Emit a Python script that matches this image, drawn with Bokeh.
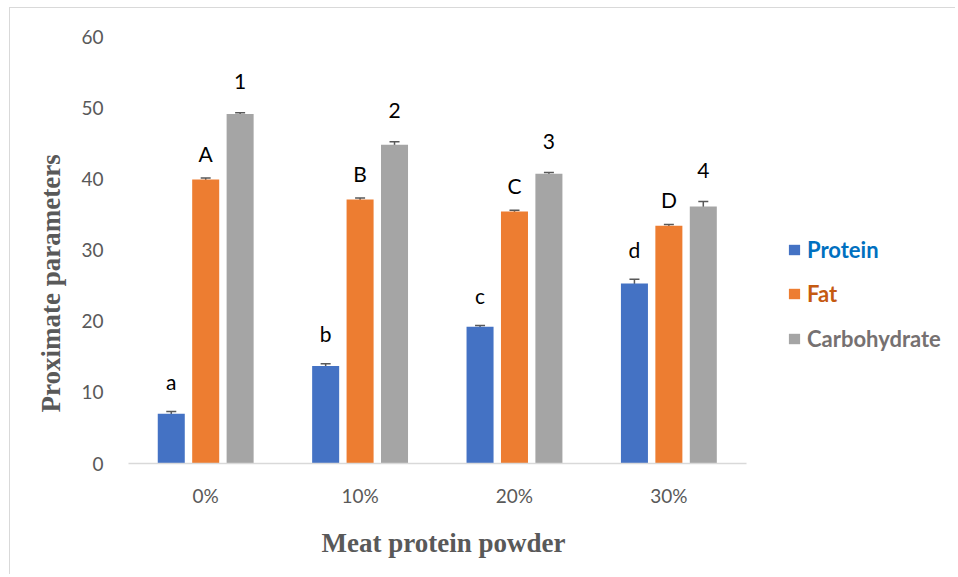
from bokeh.plotting import figure
from bokeh.models import (ColumnDataSource, Range1d, Whisker, TeeHead, Legend, LegendItem,
                          FixedTicker, LinearAxis, Title)
from bokeh.transform import dodge
from bokeh.core.properties import value
from bokeh.embed import file_html
from bokeh.resources import INLINE

categories = ["0%", "10%", "20%", "30%"]
protein = [7.0, 13.7, 19.2, 25.3]
fat = [39.9, 37.1, 35.4, 33.4]
carbohydrate = [49.1, 44.8, 40.7, 36.1]
protein_err = [0.3, 0.3, 0.2, 0.6]
fat_err = [0.2, 0.2, 0.2, 0.2]
carbohydrate_err = [0.2, 0.4, 0.2, 0.7]
protein_letters = ["a", "b", "c", "d"]
fat_letters = ["A", "B", "C", "D"]
carbohydrate_letters = ["1", "2", "3", "4"]
y_ticks = [0, 10, 20, 30, 40, 50, 60]

cat_pos = [i + 0.5 for i in range(len(categories))]

series = [
    ("Protein", protein, protein_err, protein_letters, "#4472C4", "#0070C0", -0.223, -30),
    ("Fat", fat, fat_err, fat_letters, "#ED7D31", "#C55A11", 0.0, -25),
    ("Carbohydrate", carbohydrate, carbohydrate_err, carbohydrate_letters, "#A5A5A5", "#767171", 0.223, -31),
]

p = figure(width=946, height=567, output_backend="svg", toolbar_location=None,
           x_range=Range1d(0, 5.363), y_range=Range1d(0, 60),
           min_border_left=118, min_border_right=0, min_border_top=28, min_border_bottom=112,
           x_axis_type=None)
p.margin = (7, 0, 0, 9)
p.styles = {"border-top": "1px solid #D9D9D9", "border-left": "1px solid #D9D9D9"}
p.outline_line_color = None
p.xgrid.grid_line_color = None
p.ygrid.grid_line_color = None

legend_y = [200, 156, 111]
for i, (name, vals, errs, letters, color, tcolor, off, lab_off) in enumerate(series):
    src = ColumnDataSource(dict(x=cat_pos, val=vals, lo=[v - e for v, e in zip(vals, errs)],
                                hi=[v + e for v, e in zip(vals, errs)], lab=letters))
    r = p.vbar(x=dodge("x", off), top="val", width=0.175, source=src,
               fill_color=color, line_color=None)
    w = Whisker(base=dodge("x", off), lower="lo", upper="hi", source=src,
                line_color="#595959", line_width=1.5,
                upper_head=TeeHead(size=10, line_color="#595959", line_width=1.5),
                lower_head=TeeHead(size=10, line_color="#595959", line_width=1.5))
    p.add_layout(w)
    p.text(x=dodge("x", off), y="hi", text="lab", source=src,
           text_align="center", text_baseline="alphabetic", y_offset=lab_off,
           text_font=value("Lato"), text_font_size="21px", text_color="#000000")
    leg = Legend(items=[LegendItem(label=name, renderers=[r])], location=(659, legend_y[i]),
                 padding=0, margin=0, border_line_color=None, background_fill_alpha=0,
                 glyph_width=14, glyph_height=13, label_standoff=6, label_height=20,
                 label_text_font="Lato", label_text_font_style="bold",
                 label_text_font_size="22px", label_text_color=tcolor)
    p.add_layout(leg, "center")

xaxis = LinearAxis(ticker=FixedTicker(ticks=cat_pos),
                   major_label_overrides={x: c for x, c in zip(cat_pos, categories)},
                   bounds=(0, len(categories)))
xaxis.axis_line_color = "#D9D9D9"
xaxis.axis_line_width = 1.5
xaxis.major_tick_line_color = None
xaxis.minor_tick_line_color = None
xaxis.major_label_standoff = 14
xaxis.major_label_text_font = "Lato"
xaxis.major_label_text_font_size = "19px"
xaxis.major_label_text_color = "#595959"
p.add_layout(xaxis, "below")

p.yaxis.ticker = FixedTicker(ticks=y_ticks)
p.yaxis.axis_line_color = None
p.yaxis.major_tick_line_color = None
p.yaxis.minor_tick_line_color = None
p.yaxis.major_label_standoff = 19
p.yaxis.major_label_text_font = "Lato"
p.yaxis.major_label_text_font_size = "19px"
p.yaxis.major_label_text_color = "#595959"

xtitle = Title(text="Meat protein powder", align="left", offset=193, standoff=33,
               text_font="Liberation Serif", text_font_style="bold",
               text_font_size="27px", text_color="#595959")
p.add_layout(xtitle, "below")

ytitle = Title(text="Proximate parameters", align="left", offset=51, standoff=25,
               text_font="Liberation Serif", text_font_style="bold",
               text_font_size="27px", text_color="#595959")
p.add_layout(ytitle, "left")

open("out.html", "w").write(file_html(p, INLINE))
